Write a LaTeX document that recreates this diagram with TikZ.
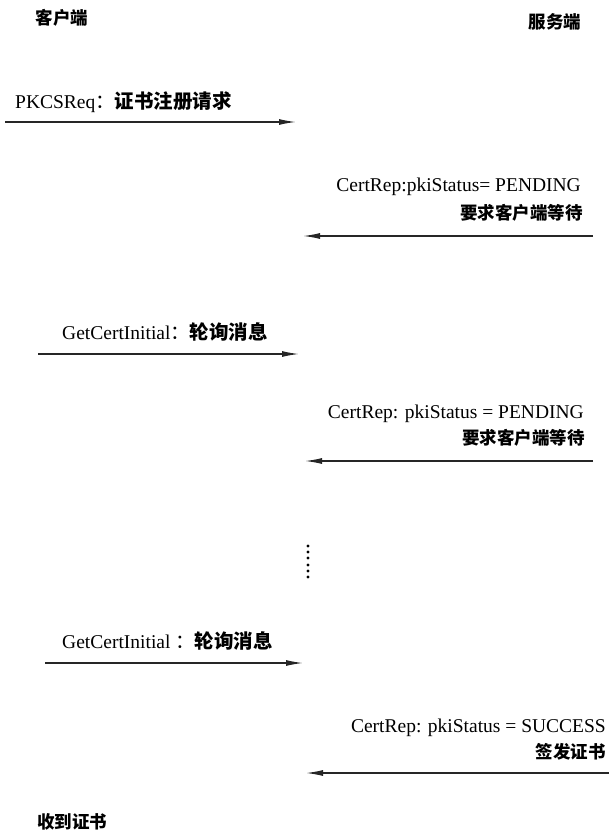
\documentclass[tikz,border=0pt]{standalone}
\usepackage{fontspec}
\setmainfont{Liberation Serif}
\newfontfamily\cjk{Noto Sans CJK SC}
\usetikzlibrary{arrows.meta}
\begin{document}
\begin{tikzpicture}[x=1pt,y=1pt,
  lat/.style={inner sep=0pt,font=\fontsize{19.5}{22}\selectfont},
  zh/.style={inner sep=0pt,font=\cjk\bfseries\fontsize{17.5}{20}\selectfont},
  msg/.style={line width=1.3pt,draw=black!85,-{Latex[length=17pt,width=6pt]}},
  dot/.style={circle,fill=black,inner sep=0pt,minimum size=3.2pt}]
\useasboundingbox (0,0) rectangle (608,-834);
% headers
\node[zh] (client) at (62,-18) {客户端};
\node[zh] (server) at (555,-22) {服务端};
% message 1
\node[lat,anchor=west] (m1) at (15,-102) {PKCSReq{\cjk：\bfseries 证书注册请求}};
\coordinate (a1s) at (5,-122);
\coordinate (a1e) at (296,-122);
\draw[msg] (a1s) -- (a1e);
% message 2
\node[lat,anchor=east] (m2a) at (581,-187) {CertRep:pkiStatus= PENDING};
\node[zh,anchor=east] (m2b) at (583,-213) {要求客户端等待};
\coordinate (a2s) at (593,-236);
\coordinate (a2e) at (303,-236);
\draw[msg] (a2s) -- (a2e);
% message 3
\node[lat,anchor=west] (m3) at (62,-332) {GetCertInitial{\cjk：\bfseries 轮询消息}};
\coordinate (a3s) at (38,-354);
\coordinate (a3e) at (299,-354);
\draw[msg] (a3s) -- (a3e);
% message 4
\node[lat,anchor=east] (m4a) at (584,-414) {CertRep: pkiStatus = PENDING};
\node[zh,anchor=east] (m4b) at (585,-438) {要求客户端等待};
\coordinate (a4s) at (593,-461);
\coordinate (a4e) at (305,-461);
\draw[msg] (a4s) -- (a4e);
% dots
\foreach \yy/\nm in {546/d1,552/d2,558/d3,565/d4,571/d5,577/d6}
  \node[dot] (\nm) at (308,-\yy) {};
% message 5
\node[lat,anchor=west] (m5) at (62,-641) {GetCertInitial {\cjk：\bfseries 轮询消息}};
\coordinate (a5s) at (45,-663);
\coordinate (a5e) at (303,-663);
\draw[msg] (a5s) -- (a5e);
% message 6
\node[lat,anchor=east] (m6a) at (606,-728) {CertRep: pkiStatus = SUCCESS};
\node[zh,anchor=east] (m6b) at (606,-752) {签发证书};
\coordinate (a6s) at (610,-773);
\coordinate (a6e) at (306,-773);
\draw[msg] (a6s) -- (a6e);
% final
\node[zh,anchor=west] (recv) at (37,-822) {收到证书};
\end{tikzpicture}
\end{document}
